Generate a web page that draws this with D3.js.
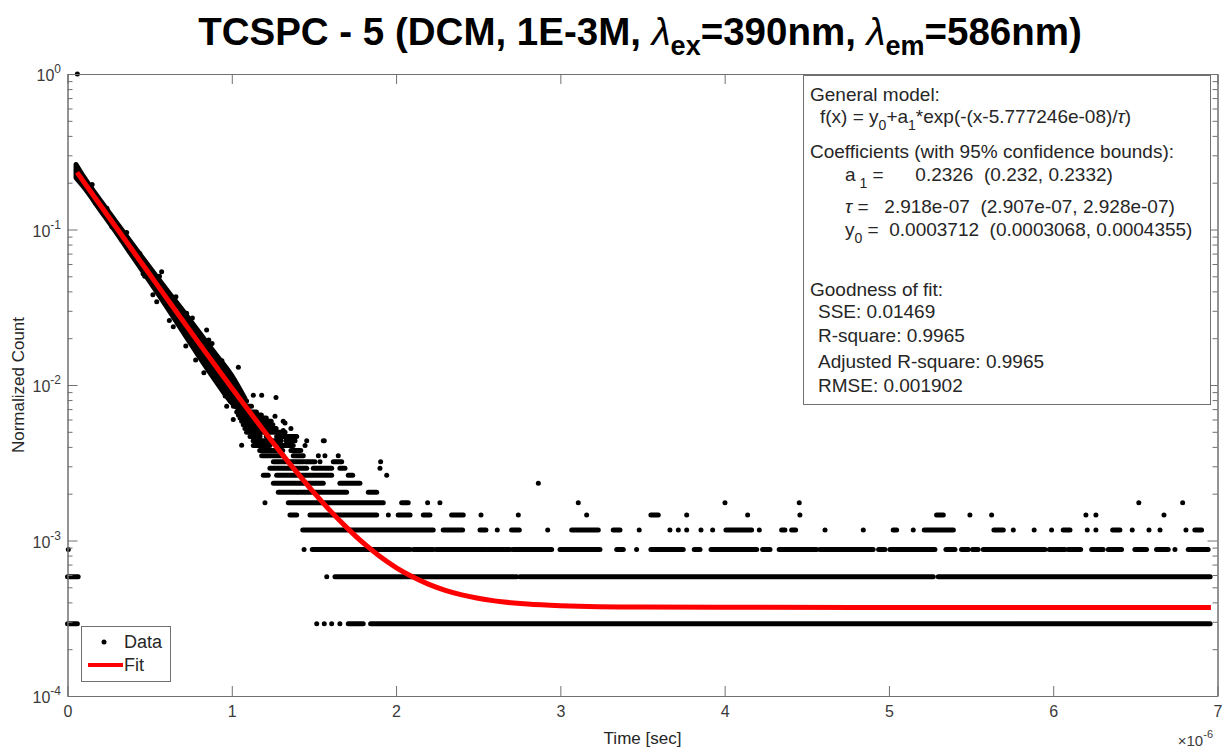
<!DOCTYPE html>
<html>
<head>
<meta charset="utf-8">
<title>TCSPC - 5</title>
<script src="https://d3js.org/d3.v7.min.js"></script>
<style>
body { margin: 0; background: #fff; }
svg text { font-family: 'Liberation Sans', Arial, sans-serif; }
.axis path, .axis line { stroke: #707070; }
.axis text { fill: #3a3a3a; font-size: 16px; font-family: 'Liberation Sans', Arial, sans-serif; }
</style>
</head>
<body>
<div id="plot"></div>
<script>

// time axis is in units of 1e-6 s, counts are normalized to the peak
var xTicks = [0, 1, 2, 3, 4, 5, 6, 7];
var yMajor = [1e-4, 1e-3, 1e-2, 1e-1, 1];
var yExponents = ["-4", "-3", "-2", "-1", "0"];

// one photon count after normalization
var countUnit = 2.92e-4;

// the isolated peak point
var peakPoint = [[0.06, 1.0]];

// dense part of the decay: upper and lower edge of the cloud of points
var bandX  = [0.052, 0.10, 0.20, 0.30, 0.40, 0.50, 0.60, 0.70, 0.80, 0.90, 1.00, 1.08];
var bandHi = [0.262, 0.217, 0.154, 0.110, 0.0791, 0.0571, 0.0415, 0.0303, 0.0219, 0.0159, 0.0115, 0.0082];
var bandLo = [0.215, 0.187, 0.133, 0.0945, 0.0662, 0.0464, 0.0323, 0.0222, 0.0153, 0.0107, 0.0077, 0.0066];

// stray points around the dense decay
var decayDots = [
  [0.573, 0.0535], [0.543, 0.0343], [0.644, 0.0237], [0.725, 0.0289], [0.847, 0.0226],
  [0.969, 0.0073], [1.009, 0.0060], [1.04, 0.0130], [1.06, 0.0041], [1.131, 0.0086],
  [1.182, 0.0086], [1.269, 0.0083], [1.263, 0.0063], [1.324, 0.0057], [1.313, 0.0051],
  [0.33, 0.086], [0.46, 0.052], [0.78, 0.0145], [0.88, 0.0185],
  [0.15, 0.195], [0.17, 0.148], [0.24, 0.137], [0.27, 0.104], [0.36, 0.0955], [0.38, 0.072],
  [0.44, 0.070], [0.47, 0.050], [0.56, 0.050], [0.52, 0.038], [0.66, 0.037], [0.62, 0.026],
  [0.76, 0.027], [0.72, 0.0178], [0.86, 0.0195], [0.83, 0.0120], [0.94, 0.0143], [0.96, 0.0085]
];

// low count levels: [counts, first time, last time] of each run of points
var levelRuns = [
  [1, 0.0, 0.06], [1, 1.517, 1.517], [1, 1.563, 1.563], [1, 1.608, 1.608], [1, 1.658, 1.658],
  [1, 1.709, 1.800], [1, 1.845, 6.955],
  [2, 0.0, 0.065], [2, 1.578, 1.578], [2, 1.628, 2.734], [2, 2.754, 5.27], [2, 5.30, 6.955],
  [3, 0.005, 0.005], [3, 1.44, 1.44], [3, 1.49, 2.085], [3, 2.105, 2.226], [3, 2.243, 2.541],
  [3, 2.551, 2.693], [3, 2.71, 2.947], [3, 2.998, 3.241], [3, 3.343, 3.383], [3, 3.464, 3.464],
  [3, 3.551, 3.748], [3, 3.815, 3.850], [3, 3.917, 4.195], [3, 4.231, 4.276], [3, 4.332, 4.560],
  [3, 4.580, 4.904], [3, 4.937, 4.976], [3, 5.006, 5.280], [3, 5.347, 5.402], [3, 5.442, 5.483],
  [3, 5.509, 5.543], [3, 5.574, 5.950], [3, 5.976, 6.072], [3, 6.091, 6.167], [3, 6.234, 6.304],
  [3, 6.335, 6.416], [3, 6.497, 6.568], [3, 6.629, 6.700], [3, 6.741, 6.741], [3, 6.822, 6.943],
  [4, 1.432, 2.226], [4, 2.287, 2.405], [4, 2.511, 2.547], [4, 2.616, 2.616], [4, 2.703, 2.750],
  [4, 2.923, 2.923], [4, 3.069, 3.231], [4, 3.322, 3.363], [4, 3.480, 3.480], [4, 3.667, 3.667],
  [4, 3.718, 3.718], [4, 3.769, 3.769], [4, 3.856, 3.856], [4, 3.927, 3.927], [4, 4.008, 4.164],
  [4, 4.211, 4.211], [4, 4.347, 4.367], [4, 4.408, 4.432], [4, 4.611, 4.611], [4, 4.844, 4.844],
  [4, 5.026, 5.047], [4, 5.148, 5.148], [4, 5.215, 5.392], [4, 5.639, 5.696], [4, 5.757, 5.757],
  [4, 5.884, 5.884], [4, 5.990, 5.990], [4, 6.061, 6.102], [4, 6.207, 6.207], [4, 6.260, 6.260],
  [4, 6.362, 6.406], [4, 6.481, 6.481], [4, 6.583, 6.583], [4, 6.650, 6.650], [4, 6.808, 6.808],
  [4, 6.862, 6.903],
  [5, 1.354, 1.395], [5, 1.476, 1.882], [5, 1.953, 1.953], [5, 2.013, 2.085], [5, 2.166, 2.206],
  [5, 2.338, 2.409], [5, 2.517, 2.517], [5, 2.744, 2.744], [5, 3.160, 3.160], [5, 3.551, 3.596],
  [5, 3.769, 3.769], [5, 4.140, 4.140], [5, 4.458, 4.458], [5, 5.290, 5.331], [5, 5.493, 5.493],
  [5, 5.625, 5.625], [5, 6.199, 6.199], [5, 6.260, 6.260], [5, 6.674, 6.674],
  [6, 1.202, 1.202], [6, 1.344, 1.922], [6, 2.034, 2.074], [6, 2.192, 2.192], [6, 2.267, 2.267],
  [6, 3.109, 3.109], [6, 4.002, 4.002], [6, 4.454, 4.454], [6, 6.521, 6.521], [6, 6.788, 6.788],
  [7, 1.283, 1.395], [7, 1.405, 1.699], [7, 1.831, 1.882],
  [8, 1.253, 1.557], [8, 1.658, 1.780], [8, 2.866, 2.866],
  [9, 1.192, 1.222], [9, 1.273, 1.608], [9, 1.709, 1.736], [9, 1.943, 1.943],
  [10, 1.232, 1.456], [10, 1.496, 1.608], [10, 1.658, 1.689], [10, 1.902, 1.902],
  [11, 1.253, 1.435], [11, 1.446, 1.506], [11, 1.537, 1.537], [11, 1.618, 1.669], [11, 1.906, 1.906],
  [12, 1.182, 1.313], [12, 1.374, 1.435], [12, 1.527, 1.527], [12, 1.567, 1.567], [12, 1.648, 1.648],
  [13, 1.17, 1.31], [13, 1.36, 1.42],
  [14, 1.131, 1.232], [14, 1.273, 1.374], [14, 1.446, 1.446],
  [15, 1.13, 1.30], [15, 1.33, 1.385], [15, 1.456, 1.456], [15, 1.557, 1.563],
  [16, 1.111, 1.172], [16, 1.21, 1.22], [16, 1.273, 1.395],
  [17, 1.09, 1.324],
  [18, 1.08, 1.27], [18, 1.36, 1.36],
  [19, 1.07, 1.25],
  [20, 1.06, 1.24], [20, 1.313, 1.313],
  [21, 1.05, 1.21], [22, 1.04, 1.18], [23, 1.03, 1.15], [25, 1.01, 1.12], [27, 0.99, 1.09]
];

// fitted curve
var fitX = [0.058, 0.1, 0.2, 0.3, 0.4, 0.5, 0.6, 0.7, 0.8, 0.9, 1.0, 1.1, 1.2, 1.3, 1.4, 1.5,
            1.6, 1.7, 1.8, 1.9, 2.0, 2.1, 2.2, 2.3, 2.4, 2.6, 2.8, 3.0, 3.5, 4.0, 5.0, 6.0, 6.96];
var fitY = [0.2330, 0.2017, 0.1432, 0.1018, 0.0724, 0.0515, 0.0366, 0.0261, 0.0186, 0.01334,
            0.00958, 0.00691, 0.00501, 0.00366, 0.00271, 0.00203, 0.00155, 0.00121, 0.000964,
            0.000792, 0.000670, 0.000584, 0.000522, 0.000478, 0.000447, 0.000409, 0.000390,
            0.000381, 0.000373, 0.000372, 0.000371, 0.000371, 0.000371];

var width = 1225;
var height = 748;
var plotLeft = 67.5, plotRight = 1217.5, plotTop = 74, plotBottom = 696;

var svg = d3.select("#plot").append("svg")
.attr("width", width).attr("height", height)
.style("display", "block");

var xScale = d3.scaleLinear().domain([0, 7]).range([plotLeft, plotRight]);
var yScale = d3.scaleLog().domain([1e-4, 1]).range([plotBottom, plotTop]);

// data ---------------------------------------------------------------
var dataG = svg.append("g");

var band = bandX.map(function (x, i) { return { x: x, hi: bandHi[i], lo: bandLo[i] }; });
dataG.append("path")
.datum(band)
.attr("d", d3.area()
  .x(function (d) { return xScale(d.x); })
  .y0(function (d) { return yScale(d.lo); })
  .y1(function (d) { return yScale(d.hi); })
  .curve(d3.curveMonotoneX))
.style("fill", "#000")
.style("stroke", "#000")
.style("stroke-width", 5)
.style("stroke-linejoin", "round");

var runLines = levelRuns.filter(function (d) { return d[1] !== d[2]; });
var runDots = levelRuns.filter(function (d) { return d[1] === d[2]; });

dataG.selectAll("line.run")
.data(runLines).enter().append("line")
.attr("class", "run")
.attr("x1", function (d) { return xScale(d[1]); })
.attr("x2", function (d) { return xScale(d[2]); })
.attr("y1", function (d) { return yScale(d[0] * countUnit); })
.attr("y2", function (d) { return yScale(d[0] * countUnit); })
.style("stroke", "#000")
.style("stroke-width", 5)
.style("stroke-linecap", "round");

dataG.selectAll("circle.single")
.data(runDots.map(function (d) { return [d[1], d[0] * countUnit]; })
  .concat(decayDots).concat(peakPoint))
.enter().append("circle")
.attr("class", "single")
.attr("cx", function (d) { return xScale(d[0]); })
.attr("cy", function (d) { return yScale(d[1]); })
.attr("r", 2.5)
.style("fill", "#000");

// fit ----------------------------------------------------------------
var fitPts = fitX.map(function (x, i) { return [x, fitY[i]]; });
svg.append("path")
.datum(fitPts)
.attr("d", d3.line()
  .x(function (d) { return xScale(d[0]); })
  .y(function (d) { return yScale(d[1]); })
  .curve(d3.curveMonotoneX))
.style("fill", "none")
.style("stroke", "#ff0000")
.style("stroke-width", 5);

// axes ---------------------------------------------------------------
var yMinor = yScale.ticks().filter(function (v) { return yMajor.indexOf(v) < 0; });

svg.append("g").attr("class", "axis")
.attr("transform", "translate(0," + plotBottom + ")")
.call(d3.axisBottom(xScale).tickValues(xTicks).tickSize(-10).tickSizeOuter(0).tickPadding(10)
  .tickFormat(d3.format("d")));

svg.append("g").attr("class", "axis")
.attr("transform", "translate(0," + plotTop + ")")
.call(d3.axisTop(xScale).tickValues(xTicks).tickSize(-10).tickSizeOuter(0).tickFormat(""));

[[plotLeft, d3.axisLeft], [plotRight, d3.axisRight]].forEach(function (side) {
  svg.append("g").attr("class", "axis")
  .attr("transform", "translate(" + side[0] + ",0)")
  .call(side[1](yScale).tickValues(yMajor).tickSize(-10).tickSizeOuter(0).tickFormat(""));
  svg.append("g").attr("class", "axis")
  .attr("transform", "translate(" + side[0] + ",0)")
  .call(side[1](yScale).tickValues(yMinor).tickSize(-5).tickSizeOuter(0).tickFormat(""));
});

var yLabels = svg.selectAll("text.ylab")
.data(yMajor).enter().append("text")
.attr("class", "ylab")
.attr("x", 61)
.attr("y", function (d) { return yScale(d) + 7; })
.attr("text-anchor", "end")
.style("font-size", "16px")
.style("fill", "#3a3a3a");
yLabels.append("tspan").text("10");
yLabels.append("tspan").attr("dy", -8).style("font-size", "12px")
.text(function (d, i) { return yExponents[i]; });

svg.append("text")
.attr("transform", "translate(24," + ((plotTop + plotBottom) / 2) + ") rotate(-90)")
.attr("text-anchor", "middle")
.style("font-size", "17px").style("fill", "#262626")
.text("Normalized Count");

svg.append("text")
.attr("x", (plotLeft + plotRight) / 2).attr("y", 744)
.attr("text-anchor", "middle")
.style("font-size", "17px").style("fill", "#262626")
.text("Time [sec]");

var expLabel = svg.append("text")
.attr("x", 1213).attr("y", 746)
.attr("text-anchor", "end")
.style("font-size", "15px").style("fill", "#3a3a3a");
expLabel.append("tspan").text("\u00d710");
expLabel.append("tspan").attr("dy", -8).style("font-size", "11px").text("-6");

// title --------------------------------------------------------------
var title = svg.append("text")
.attr("x", 640).attr("y", 45)
.attr("text-anchor", "middle")
.style("font-size", "38.5px").style("font-weight", "bold").style("fill", "#000");
title.append("tspan").text("TCSPC - 5 (DCM, 1E-3M, ");
title.append("tspan").style("font-style", "italic").style("font-weight", "normal").text("\u03bb");
title.append("tspan").attr("dy", 10).style("font-size", "27px").text("ex");
title.append("tspan").attr("dy", -10).text("=390nm, ");
title.append("tspan").style("font-style", "italic").style("font-weight", "normal").text("\u03bb");
title.append("tspan").attr("dy", 10).style("font-size", "27px").text("em");
title.append("tspan").attr("dy", -10).text("=586nm)");

// fit results box ----------------------------------------------------
var box = svg.append("g");
box.append("rect")
.attr("x", 803.5).attr("y", 75.5).attr("width", 407).attr("height", 329)
.style("fill", "#fff").style("stroke", "#707070").style("stroke-width", 1);

function addLine(x, y, parts) {
  var t = box.append("text").attr("x", x).attr("y", y)
  .attr("xml:space", "preserve")
  .style("white-space", "pre").style("font-size", "19px").style("fill", "#262626");
  var shift = 0;
  parts.forEach(function (p) {
    var s = t.append("tspan").text(p[0]);
    if (p[1] === "sub") {
      s.attr("dy", 7 - shift).style("font-size", "14px");
      shift = 7;
    } else {
      if (shift) { s.attr("dy", -shift); shift = 0; }
      if (p[1] === "it") s.style("font-style", "italic");
    }
  });
}

addLine(810, 101, [["General model:"]]);
addLine(820, 123, [["f(x) = y"], ["0", "sub"], ["+a"], ["1", "sub"],
  ["*exp(-(x-5.777246e-08)/"], ["\u03c4", "it"], [")"]]);
addLine(810, 158, [["Coefficients (with 95% confidence bounds):"]]);
addLine(845, 181, [["a"], [" 1", "sub"], [" =      0.2326  (0.232, 0.2332)"]]);
addLine(845, 213, [["\u03c4", "it"], [" =   2.918e-07  (2.907e-07, 2.928e-07)"]]);
addLine(845, 236, [["y"], ["0", "sub"], [" =  0.0003712  (0.0003068, 0.0004355)"]]);
addLine(810, 296, [["Goodness of fit:"]]);
addLine(818, 318, [["SSE: 0.01469"]]);
addLine(818, 342, [["R-square: 0.9965"]]);
addLine(818, 368, [["Adjusted R-square: 0.9965"]]);
addLine(818, 392, [["RMSE: 0.001902"]]);

// legend -------------------------------------------------------------
var legend = svg.append("g");
legend.append("rect")
.attr("x", 81.5).attr("y", 626.5).attr("width", 89).attr("height", 55)
.style("fill", "#fff").style("stroke", "#707070");
legend.append("circle").attr("cx", 104).attr("cy", 642).attr("r", 2.5).style("fill", "#000");
legend.append("line").attr("x1", 88).attr("x2", 123).attr("y1", 665).attr("y2", 665)
.style("stroke", "#ff0000").style("stroke-width", 4);
legend.append("text").attr("x", 124).attr("y", 648).style("font-size", "18px").style("fill", "#262626").text("Data");
legend.append("text").attr("x", 124).attr("y", 671).style("font-size", "18px").style("fill", "#262626").text("Fit");

</script>
</body>
</html>
